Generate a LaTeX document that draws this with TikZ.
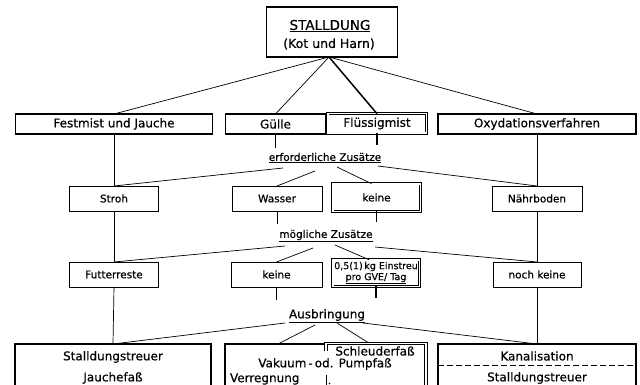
\documentclass[tikz,border=0pt]{standalone}
\usepackage{fontspec}
\setmainfont{DejaVu Sans}[FakeBold=0.5]
\usetikzlibrary{calc}
\begin{document}
\begin{tikzpicture}[x=1pt,y=-1pt,
  every node/.style={inner sep=0pt,outer sep=0pt},
  lab/.style={font=\fontsize{12}{14}\selectfont},
  note/.style={font=\fontsize{10.5}{12}\selectfont},
  frame/.style={draw,line width=1.1pt,minimum height=20pt,lab},
  small/.style={draw,line width=0.8pt,minimum height=25pt,minimum width=90pt,note},
  twin/.style={draw,double,double distance=1.6pt,line width=0.9pt},
  twinline/.style={double,double distance=1.6pt,line width=0.9pt},
  bigbox/.style={draw,line width=1.6pt,minimum height=56pt},
  link/.style={line width=0.7pt},
  heavy/.style={line width=1.5pt}
]
\fill[white] (0,0) rectangle (640,385);
\useasboundingbox (0,0) rectangle (640,385);
\clip (0,0) rectangle (640,385);

% source
\node[draw,line width=1.1pt,minimum width=131pt,minimum height=50pt] (stall) at (332,32) {};
\node[font=\fontsize{13.5}{15}\selectfont] (stallA) at (330,26) {\underline{STALLDUNG}};
\node[font=\fontsize{12.5}{14}\selectfont] (stallB) at (329,44) {(Kot und Harn)};
\coordinate (apex) at (329,57);

% kinds of manure
\node[frame,minimum width=197pt] (fest) at (114,124) {Festmist und Jauche};
\node[frame,minimum width=100pt] (guelle) at (275.5,124) {Gülle};
\node[twin,lab,minimum width=98.6pt,minimum height=19.6pt] (fluess) at (377,123.5) {Flüssigmist\hspace{6pt}};
\node[frame,minimum width=198pt] (oxy) at (537,124) {Oxydationsverfahren};

% required additions
\node[note] (erf) at (325,158) {\underline{erforderliche Zusätze}};
\node[small,minimum width=89pt] (stroh) at (114,198.5) {Stroh};
\node[small] (wasser) at (277,198.5) {Wasser};
\node[twin,note,minimum width=87.6pt,minimum height=27.6pt] (keine1) at (376.5,197.5) {keine};
\node[small] (naehr) at (537,198.5) {Nährboden};

% possible additions
\node[note] (moeg) at (326,236) {\underline{mögliche Zusätze}};
\node[small,minimum width=89pt] (futter) at (114,274.5) {Futterreste};
\node[small,minimum width=91pt] (keine2) at (276.5,274.5) {keine};
\node[twin,align=center,font=\fontsize{9.5}{11}\selectfont,minimum width=86.6pt,minimum height=26.6pt] (einstreu) at (376,273) {0,5(1)\,kg Einstreu\\\underline{pro GVE/ Tag}};
\node[small,minimum width=88pt] (noch) at (537,274.5) {noch keine};

% spreading
\node[lab] (ausb) at (327,316) {\underline{Ausbringung}};
\node[bigbox,minimum width=196pt] (bl) at (113,372) {};
\node[lab] (blA) at (113,357) {Stalldungstreuer};
\node[lab] (blB) at (113,378) {Jauchefaß};

\node[bigbox,minimum width=202.5pt] (bm) at (326.25,372) {};
\draw[twinline] (326,351) -- (326,343.5) -- (426,343.5) -- (426,392);
\draw[line width=1pt] (326,375) -- (326,385);
\fill (329.5,383.5) circle (0.8);
\node[lab] (schl) at (375,351) {Schleuderfaß};
\node[lab] (bmA) at (325,364) {Vakuum\,-\,od. Pumpfaß};
\node[lab,anchor=west] (bmB) at (230,379) {Verregnung};
\coordinate (schtop) at (368,342.5);

\node[bigbox,minimum width=198pt] (kanal) at (537,372) {};
\node[lab] (kA) at (537,356) {Kanalisation};
\draw[dashed,dash pattern=on 6pt off 3pt,line width=1pt] (438,365) -- (636,365);
\node[lab] (kB) at (537,378) {Stalldungstreuer};

% connectors from the source
\draw[link] (apex) -- (fest.north);
\draw[link] (apex) -- (guelle.north);
\draw[heavy] (apex) -- (fluess.north);
\draw[link] (apex) -- (oxy.north);

% first level down
\coordinate (gs) at ($(guelle.south)+(0,14)$);
\coordinate (fs) at ($(fluess.south)+(0,12)$);
\draw[link] (guelle.south) -- (gs);
\draw[line width=1.2pt] (fluess.south) -- (fs);
\draw[link] (fest.south) -- (stroh.north);
\draw[link] (oxy.south) -- (naehr.north);

\coordinate (e1) at (283,168);
\coordinate (e2) at (315,171);
\coordinate (e3) at (337,167);
\coordinate (e4) at (378,166);
\draw[link] (e1) -- (stroh.north);
\draw[link] (e2) -- (wasser.north);
\draw[link] (e3) -- ($(keine1.north)+(-5,0)$);
\draw[link] (e4) -- (naehr.north);

% second level down
\coordinate (ws) at ($(wasser.south)+(0,13)$);
\coordinate (ks) at ($(keine1.south)+(0,11)$);
\draw[link] (wasser.south) -- (ws);
\draw[line width=1.2pt] (keine1.south) -- (ks);
\draw[link] (stroh.south) -- (futter.north);
\draw[link] (naehr.south) -- (noch.north);

\coordinate (m1) at (285,246);
\coordinate (m2) at (313,248);
\coordinate (m3) at (335,245);
\coordinate (m4) at (375,247);
\draw[link] (m1) -- (futter.north);
\draw[link] (m2) -- (keine2.north);
\draw[link] (m3) -- ($(einstreu.north)+(-7,0)$);
\draw[link] (m4) -- (noch.north);

% third level down
\coordinate (k2s) at ($(keine2.south)+(0,13)$);
\coordinate (es) at ($(einstreu.south)+(0,12)$);
\draw[link] (keine2.south) -- (k2s);
\draw[line width=1.2pt] (einstreu.south) -- (es);
\draw[link] (futter.south) -- (bl.north);
\draw[link] (noch.south) -- (kanal.north);

\coordinate (a1) at (285,323);
\coordinate (a2) at (315,325);
\coordinate (a3) at (337,323);
\coordinate (a4) at (363,323);
\draw[link] (a1) -- (bl.north);
\draw[link] (a2) -- ($(bm.north west)+(53,0)$);
\draw[link] (a3) -- (schtop);
\draw[link] (a4) -- (kanal.north);
\end{tikzpicture}
\end{document}
